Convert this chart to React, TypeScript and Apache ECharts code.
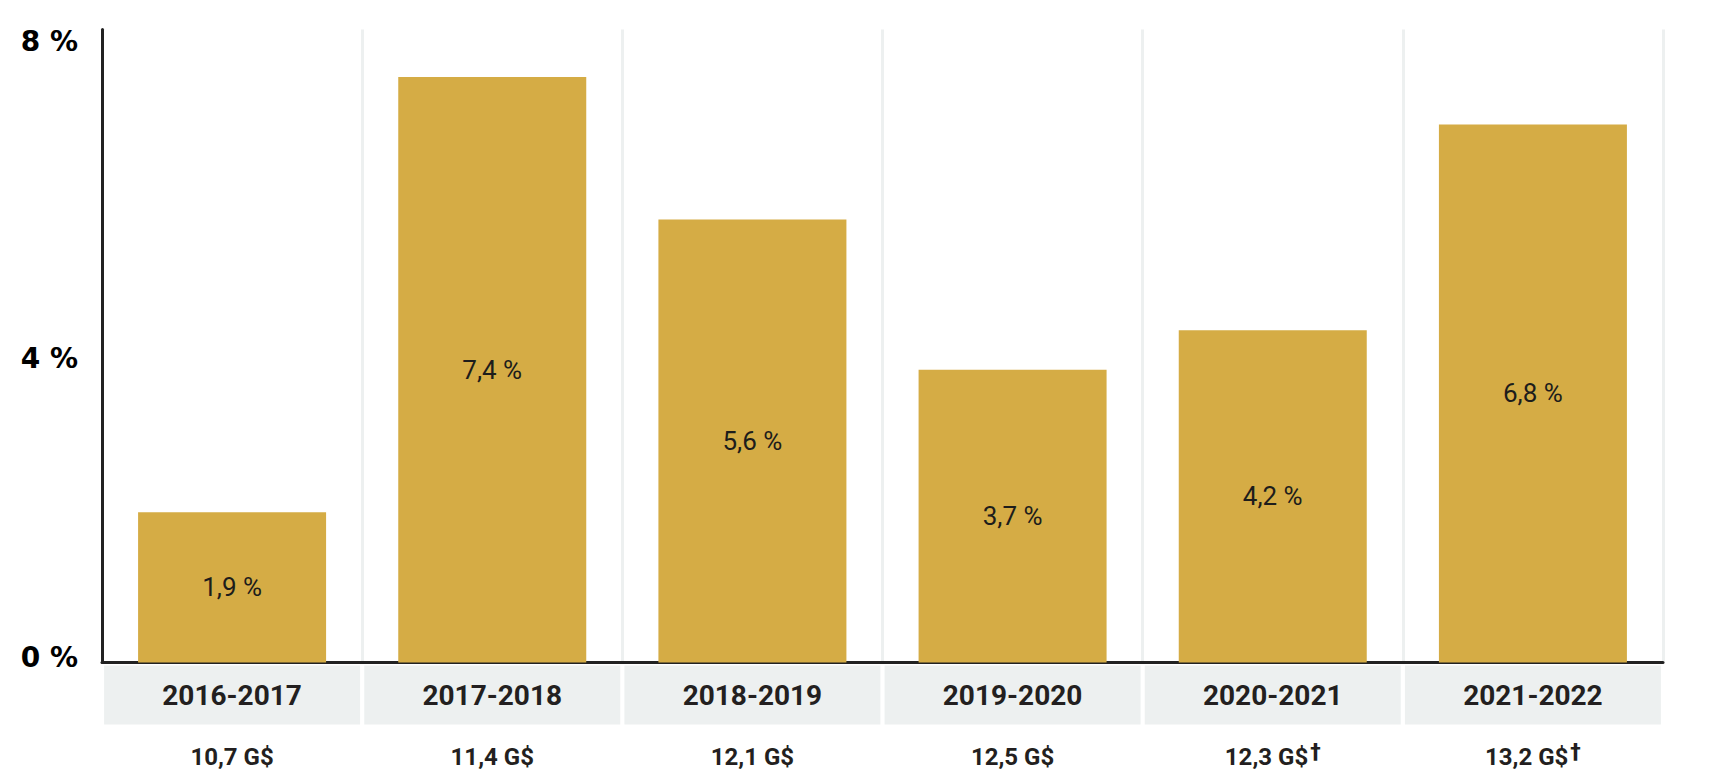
import React, { useEffect, useRef } from "react";
import * as echarts from "echarts";

const categories = ["2016-2017", "2017-2018", "2018-2019", "2019-2020", "2020-2021", "2021-2022"];
const values = [1.9, 7.4, 5.6, 3.7, 4.2, 6.8];
const totals = ["10,7 G$", "11,4 G$", "12,1 G$", "12,5 G$", "12,3 G$", "13,2 G$"];
const totalMarks = ["", "", "", "", "†", "†"];

const fmt = (v: number) => v.toFixed(1).replace(".", ",") + " %";

export default function App() {
  const ref = useRef<HTMLDivElement>(null);
  useEffect(() => {
    if (!ref.current) return;
    const chart = echarts.init(ref.current, undefined, { renderer: "svg" });
    const font = "Roboto, 'Liberation Sans', Arial, sans-serif";
    const heavy = "'DejaVu Sans', Roboto, sans-serif";
    chart.setOption({
      animation: false,
      backgroundColor: "#ffffff",
      grid: { left: 102, right: 52, top: 29.5, bottom: 120.5, containLabel: false },
      xAxis: [
        {
          type: "category",
          data: categories,
          boundaryGap: true,
          axisLine: { show: true, onZero: false, lineStyle: { color: "#222222", width: 3 } },
          axisTick: { show: false },
          splitLine: { show: true, lineStyle: { color: "#edf0f0", width: 3 } },
          axisLabel: {
            interval: 0,
            margin: 3,
            color: "#231f20",
            fontFamily: font,
            fontWeight: 700,
            fontSize: 28,
            backgroundColor: "#edf0f0",
            width: 256,
            height: 59,
            lineHeight: 59,
            align: "center",
            verticalAlign: "top",
          },
        },
        {
          type: "category",
          data: categories,
          position: "bottom",
          gridIndex: 0,
          boundaryGap: true,
          axisLine: { show: false },
          axisTick: { show: false },
          splitLine: { show: false },
          axisLabel: {
            interval: 0,
            margin: 79,
            fontFamily: font,
            formatter: (_: string, i: number) =>
              totalMarks[i] ? `{v|${totals[i]}}{s|${totalMarks[i]}}` : `{v|${totals[i]}}`,
            rich: {
              v: { fontFamily: font, fontWeight: 700, fontSize: 24, color: "#231f20", lineHeight: 30 },
              s: { fontFamily: heavy, fontWeight: 700, fontSize: 21, color: "#231f20", lineHeight: 30, verticalAlign: "top", padding: [0, 0, 6, 2] },
            },
          },
        },
      ],
      yAxis: {
        type: "value",
        min: 0,
        max: 8,
        interval: 4,
        axisLine: { show: true, lineStyle: { color: "#222222", width: 3 } },
        axisTick: { show: false },
        splitLine: { show: false },
        axisLabel: {
          margin: 24,
          formatter: (v: number) => (v === 0 ? `{b|${v} %}` : `{t|${v} %}`),
          rich: {
            t: { fontFamily: heavy, fontWeight: 700, fontSize: 28, color: "#000000", lineHeight: 30, padding: [24, 0, 0, 0] },
            b: { fontFamily: heavy, fontWeight: 700, fontSize: 28, color: "#000000", lineHeight: 30, padding: [0, 0, 10, 0] },
          },
        },
      },
      series: [
        {
          type: "bar",
          data: values,
          barWidth: 188,
          itemStyle: { color: "#d5ac45" },
          label: {
            show: true,
            position: "inside",
            formatter: (p: any) => fmt(p.value),
            fontFamily: font,
            fontSize: 26,
            color: "#1d1d1b",
          },
        },
      ],
    });
    return () => chart.dispose();
  }, []);
  return (
    <div
      ref={ref}
      style={{ position: "fixed", left: 0, top: 0, width: 1715, height: 783 }}
    />
  );
}
